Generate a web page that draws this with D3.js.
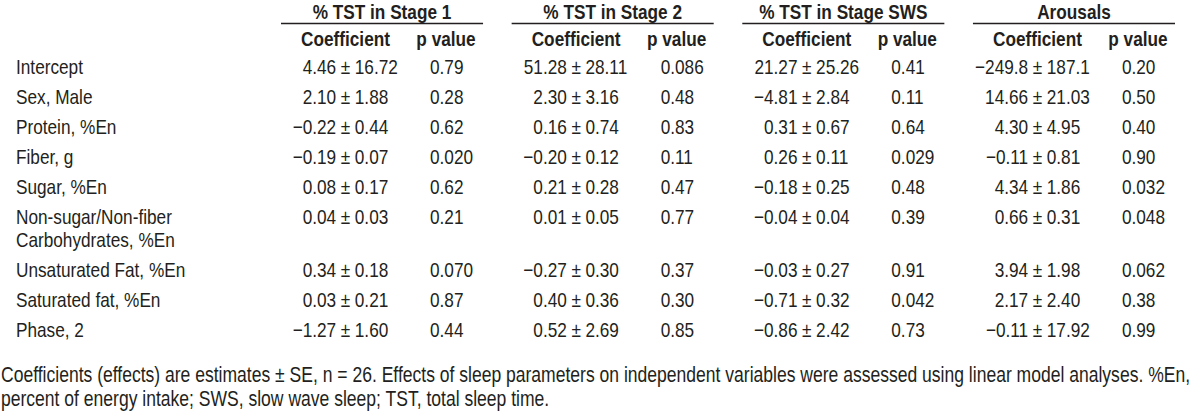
<!DOCTYPE html>
<html>
<head>
<meta charset="utf-8">
<script src="https://cdn.jsdelivr.net/npm/d3@7"></script>
<style>
  html, body { margin: 0; padding: 0; background: #fff; }
  svg text { font-family: "Liberation Sans", Arial, Helvetica, sans-serif; fill: #231f20; }
</style>
</head>
<body>
<svg id="chart" width="1200" height="413"></svg>
<script>
const groups = ["% TST in Stage 1", "% TST in Stage 2", "% TST in Stage SWS", "Arousals"];
const subHeaders = ["Coefficient", "p value"];
const rowLabels = [
  ["Intercept"],
  ["Sex, Male"],
  ["Protein, %En"],
  ["Fiber, g"],
  ["Sugar, %En"],
  ["Non-sugar/Non-fiber", "Carbohydrates, %En"],
  ["Unsaturated Fat, %En"],
  ["Saturated fat, %En"],
  ["Phase, 2"]
];
// coefficient estimates [estimate, SE] per group
const stage1Coef = [["4.46","16.72"],["2.10","1.88"],["\u22120.22","0.44"],["\u22120.19","0.07"],["0.08","0.17"],["0.04","0.03"],["0.34","0.18"],["0.03","0.21"],["\u22121.27","1.60"]];
const stage1P = ["0.79","0.28","0.62","0.020","0.62","0.21","0.070","0.87","0.44"];
const stage2Coef = [["51.28","28.11"],["2.30","3.16"],["0.16","0.74"],["\u22120.20","0.12"],["0.21","0.28"],["0.01","0.05"],["\u22120.27","0.30"],["0.40","0.36"],["0.52","2.69"]];
const stage2P = ["0.086","0.48","0.83","0.11","0.47","0.77","0.37","0.30","0.85"];
const swsCoef = [["21.27","25.26"],["\u22124.81","2.84"],["0.31","0.67"],["0.26","0.11"],["\u22120.18","0.25"],["\u22120.04","0.04"],["\u22120.03","0.27"],["\u22120.71","0.32"],["\u22120.86","2.42"]];
const swsP = ["0.41","0.11","0.64","0.029","0.48","0.39","0.91","0.042","0.73"];
const arousalCoef = [["\u2212249.8","187.1"],["14.66","21.03"],["4.30","4.95"],["\u22120.11","0.81"],["4.34","1.86"],["0.66","0.31"],["3.94","1.98"],["2.17","2.40"],["\u22120.11","17.92"]];
const arousalP = ["0.20","0.50","0.40","0.90","0.032","0.048","0.062","0.38","0.99"];
const footnote = [
  "Coefficients (effects) are estimates \u00b1 SE, n = 26. Effects of sleep parameters on independent variables were assessed using linear model analyses. %En,",
  "percent of energy intake; SWS, slow wave sleep; TST, total sleep time."
];

const coefs = [stage1Coef, stage2Coef, swsCoef, arousalCoef];
const pvals = [stage1P, stage2P, swsP, arousalP];

const svg = d3.select("#chart");
const FS = 21;
const NARROW = 0.82; // Arial Narrow ~ Arial condensed horizontally

function put(x, y, str, opts = {}) {
  return svg.append("text")
    .attr("transform", `translate(${x},${y}) scale(${NARROW},1)`)
    .attr("text-anchor", opts.anchor || "start")
    .attr("font-size", opts.size || FS)
    .attr("font-weight", opts.bold ? "bold" : "normal")
    .text(str);
}

// horizontal layout: one band per variable group
const x = d3.scaleBand().domain(groups).range([281, 1175]).paddingInner(0.124).paddingOuter(0);
// within-group sub-columns (relative to band start)
const sub = d3.scaleOrdinal().domain(["pm", "p"]).range([64.5, 149]);

// vertical layout: row index -> baseline, plus extra wrapped lines
const rowStep = d3.scaleLinear().domain([0, 1]).range([74, 104]);
const lineGap = 23;
let extra = 0;
const rowY = rowLabels.map((lines, i) => { const y = rowStep(i) + extra; extra += (lines.length - 1) * lineGap; return y; });

// group headers + rules
groups.forEach(g => {
  put(x(g) + x.bandwidth() / 2, 18.5, g, { anchor: "middle", bold: true });
});
svg.selectAll("line.gl").data(groups).join("line")
  .attr("class", "gl")
  .attr("x1", d => x(d)).attr("x2", d => x(d) + x.bandwidth())
  .attr("y1", 23.5).attr("y2", 23.5)
  .attr("stroke", "#231f20").attr("stroke-width", 1.6);

// sub headers
groups.forEach(g => {
  put(x(g) + sub("pm"), 46, subHeaders[0], { anchor: "middle", bold: true });
  put(x(g) + sub("p") + 16, 46, subHeaders[1], { anchor: "middle", bold: true });
});

// row labels
rowLabels.forEach((lines, i) => {
  lines.forEach((l, k) => put(16, rowY[i] + k * lineGap, l));
});

// values
groups.forEach((g, gi) => {
  const pmX = x(g) + sub("pm");
  coefs[gi].forEach((c, i) => {
    put(pmX - 9.3, rowY[i], c[0], { anchor: "end" });
    put(pmX, rowY[i], "\u00b1", { anchor: "middle" });
    put(pmX + 9.3, rowY[i], c[1], { anchor: "start" });
  });
  pvals[gi].forEach((p, i) => put(x(g) + sub("p"), rowY[i], p));
});

// footnote
footnote.forEach((l, k) => put(1, 382 + k * 24, l, { size: 21.4 }));
</script>
</body>
</html>
